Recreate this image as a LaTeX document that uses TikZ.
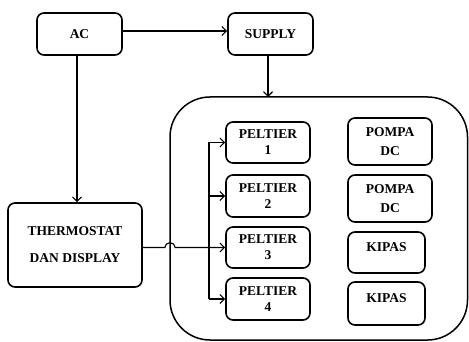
\documentclass[tikz,border=0pt]{standalone}
\usepackage{fontspec}
\setmainfont{Liberation Serif}
\usetikzlibrary{arrows.meta,calc}
\begin{document}
\begin{tikzpicture}[x=1pt,y=-1pt,
  box/.style={draw,line width=1.6pt,rounded corners=7pt,inner sep=0pt,align=center,
    font=\fontsize{13.5}{16}\selectfont\bfseries},
  conn/.style={line width=1.1pt},
  arr/.style={conn,-{Straight Barb[length=4.5pt,width=9pt,line width=1.1pt]}}]
\useasboundingbox (0,0) rectangle (469,342);
% big container
\draw[line width=1.5pt,rounded corners=40pt] (170,97) rectangle (467.5,340);
\node[box,minimum width=85pt,minimum height=42pt] (ac) at (79.5,34) {AC};
\node[box,minimum width=85pt,minimum height=42pt] (sup) at (270.5,34) {SUPPLY};
\node[box,minimum width=134pt,minimum height=84pt,font=\fontsize{13.5}{27}\selectfont\bfseries] (th) at (75,245) {THERMOSTAT\\DAN DISPLAY};
\node[box,minimum width=84pt,minimum height=41pt] (p1) at (268,142.5) {PELTIER\\1};
\node[box,minimum width=84pt,minimum height=42pt] (p2) at (268,196) {PELTIER\\2};
\node[box,minimum width=84pt,minimum height=41pt] (p3) at (268,247.5) {PELTIER\\3};
\node[box,minimum width=84pt,minimum height=42pt] (p4) at (268,299) {PELTIER\\4};
\node[box,minimum width=84pt,minimum height=47pt,font=\fontsize{13.5}{19}\selectfont\bfseries] (pm1) at (390,141.5) {POMPA\\DC};
\node[box,minimum width=84pt,minimum height=47pt,font=\fontsize{13.5}{19}\selectfont\bfseries] (pm2) at (390,198.5) {POMPA\\DC};
\node[box,minimum width=77pt,minimum height=41pt] (k1) at (386.5,252.5) {\raisebox{5pt}[\height][\depth]{KIPAS}};
\node[box,minimum width=77pt,minimum height=43pt] (k2) at (386.5,303.5) {\raisebox{5pt}[\height][\depth]{KIPAS}};
\coordinate (bus) at (209,0);
\coordinate (boxtop) at (268,97);
% connectors
\draw[arr] (ac.east |- 0,31) -- (sup.west |- 0,31);
\draw[arr] (sup.south -| boxtop) -- (boxtop);
\draw[arr] (ac.south -| 77,0) -- (th.north -| 77,0);
\draw[conn] (p1.west -| bus) -- (p4.west -| bus);
\draw[arr] (p1.west -| bus) -- (p1.west);
\draw[arr] (p2.west -| bus) -- (p2.west);
\draw[arr] (p4.west -| bus) -- (p4.west);
\draw[arr] (th.east |- p3.west) -- (165,247.5) .. controls (166,241) and (174,241) .. (175,247.5) -- (p3.west);
\end{tikzpicture}
\end{document}
